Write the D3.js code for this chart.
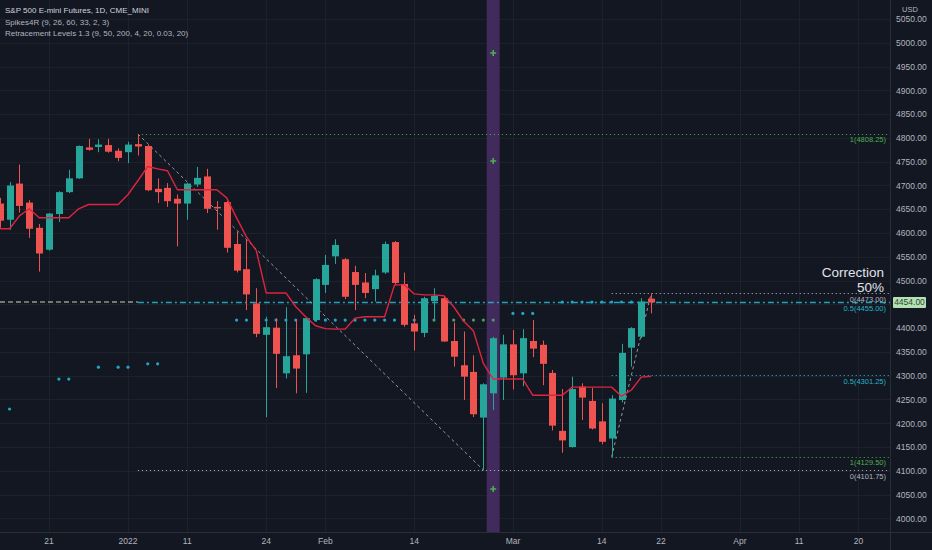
<!DOCTYPE html>
<html><head><meta charset="utf-8">
<script src="https://cdn.jsdelivr.net/npm/d3@7"></script>
<style>
html,body{margin:0;padding:0;background:#131722;}
svg{display:block;font-family:"Liberation Sans",Arial,sans-serif;}
</style></head><body>
<svg id="chart" width="932" height="550"></svg>
<script>
// ---- DATA ----
const dates = [
"2021-12-14","2021-12-15","2021-12-16","2021-12-17","2021-12-20","2021-12-21","2021-12-22","2021-12-23","2021-12-27","2021-12-28","2021-12-29","2021-12-30","2021-12-31",
"2022-01-03","2022-01-04","2022-01-05","2022-01-06","2022-01-07","2022-01-10","2022-01-11","2022-01-12","2022-01-13","2022-01-14","2022-01-18","2022-01-19","2022-01-20","2022-01-21","2022-01-24","2022-01-25","2022-01-26","2022-01-27","2022-01-28","2022-01-31",
"2022-02-01","2022-02-02","2022-02-03","2022-02-04","2022-02-07","2022-02-08","2022-02-09","2022-02-10","2022-02-11","2022-02-14","2022-02-15","2022-02-16","2022-02-17","2022-02-18","2022-02-22","2022-02-23","2022-02-24","2022-02-25","2022-02-28",
"2022-03-01","2022-03-02","2022-03-03","2022-03-04","2022-03-07","2022-03-08","2022-03-09","2022-03-10","2022-03-11","2022-03-14","2022-03-15","2022-03-16","2022-03-17","2022-03-18","2022-03-21",
"2022-03-22","2022-03-23","2022-03-24","2022-03-25","2022-03-28","2022-03-29","2022-03-30","2022-03-31",
"2022-04-01","2022-04-04","2022-04-05","2022-04-06","2022-04-07","2022-04-08","2022-04-11","2022-04-12","2022-04-13","2022-04-14","2022-04-18","2022-04-19","2022-04-20"];

const openVals  = [4662,4628,4704,4664,4611,4565,4640,4686,4715,4780,4781,4785,4773,4770,4787,4783,4693,4695,4672,4662,4702,4719,4655,4665,4577,4524,4452,4386,4401,4305,4343,4345,4417,4491,4551,4545,4518,4496,4482,4517,4581,4493,4410,4390,4457,4463,4373,4322,4308,4212,4263,4296,4366,4305,4373,4365,4306,4184,4150,4277,4247,4204,4168,4249,4359,4382,4462];
const highVals  = [4674,4707,4744,4669,4619,4642,4688,4733,4784,4798,4797,4798,4778,4792,4808.25,4786,4715,4705,4681,4705,4739,4735,4667,4667,4603,4586,4484,4424,4421,4444,4419,4423,4505,4554,4587,4547,4531,4516,4523,4582,4583,4517,4428,4466,4484,4466,4412,4393,4343,4284,4382,4386,4396,4398,4417,4374,4312,4272,4298,4284,4274,4242,4259,4367,4402,4463,4473];
const lowVals   = [4611,4607,4643,4590,4519,4563,4623,4684,4714,4773,4770,4769,4751,4747,4763,4688,4663,4655,4572,4628,4697,4642,4607,4559,4517,4438,4381,4212.75,4274,4294,4263,4264,4414,4474,4535,4461,4438,4463,4456,4514,4491,4403,4353,4381,4417,4371,4319,4249,4213,4101.75,4228,4249,4271,4278,4339,4280,4185,4138,4149,4207,4187,4156,4129.5,4244,4319,4379,4431];
const closeVals = [4626,4700,4657,4609,4557,4641,4686,4715,4783,4775,4786,4771,4758,4786,4782,4690,4686,4667,4662,4704,4716,4651,4652,4569,4521,4471,4388,4402,4346,4341,4315,4421,4503,4533,4575,4466,4491,4474,4511,4577,4495,4407,4393,4463,4468,4372,4340,4298,4219,4282,4379,4366,4301,4379,4357,4325,4195,4164,4272,4254,4189,4161,4252,4348,4400,4456,4454];

const spikeLine = [4609,4609,4636,4651,4632,4632,4632,4632,4651,4660,4660,4660,4660,4681,4710,4740,4735,4731,4691,4691,4691,4691,4691,4674,4632,4592,4563,4474,4474,4474,4445,4424,4405,4399,4398,4398,4421,4424,4424,4424,4491,4491,4472,4470,4470,4468,4445,4415,4394,4326,4293,4293,4293,4293,4259,4259,4259,4259,4276,4276,4276,4276,4276,4257,4270,4297,4299];

// support dots: date index, price, colour key
const dotIdx   = [1,6,7,10,12,13,15,16,24,25,26,27,28,29,30,31,32,33,34,35,36,37,38,39,40,41,42,43,44,45,46,47,48,49,50,52,53,54,57,58,59,60,61,62,63,64];
const dotPrice = [4230,4293,4293,4318,4318,4318,4325,4325,4417,4417,4417,4417,4417,4417,4417,4417,4417,4417,4417,4417,4417,4417,4417,4417,4417,4417,4417,4417,4417,4417,4417,4417,4417,4417,4417,4431,4431,4431,4455,4455,4455,4455,4455,4455,4455,4455];
const dotKind  = ["c","c","c","c","c","c","c","c","c","c","c","c","c","c","c","c","c","c","c","c","c","c","c","c","c","c","c","c","g","g","g","g","g","g","g","c","c","c","c","c","c","c","c","c","c","c"];

const plusIdx = [50,50,50];
const plusPrice = [4978.6,4751.5,4061.8];
const spikeBarIdx = 50;

// retracement levels
const levelNames  = ["1(4808.25)","0(4101.75)","0.5(4455.00)","0(4473.00)","0.5(4301.25)","1(4129.50)"];
const levelPrices = [4808.25,4101.75,4455.00,4473.00,4301.25,4129.50];
const levelStart  = [14,14,14,62,62,62];
const levelKind   = ["one","zero","half","zero","half","one"];
const swings = [[14,4808.25,49,4101.75],[62,4129.50,66,4473.00]];

const gridPrices = d3.range(4000, 5051, 50);
const priceTickLabels = [4000,4050,4100,4150,4200,4250,4300,4350,4400,4500,4550,4600,4650,4700,4750,4800,4850,4900,4950,5000,5050];
const timeTickDates = ["2021-12-21","2022-01-03","2022-01-11","2022-01-24","2022-02-01","2022-02-14","2022-03-01","2022-03-14","2022-03-22","2022-04-01","2022-04-11","2022-04-20"];
const timeTickLabels = ["21","2022","11","24","Feb","14","Mar","14","22","Apr","11","20"];
const legendLines = ["S&P 500 E-mini Futures, 1D, CME_MINI","Spikes4R (9, 26, 60, 33, 2, 3)","Retracement Levels 1.3 (9, 50, 200, 4, 20, 0.03, 20)"];
const lastPrice = 4454.00;

// ---- LAYOUT ----
const W = 932, H = 550, plotR = 890, plotB = 532;
const svg = d3.select("#chart");
const x = d3.scalePoint().domain(dates).range([-0.3, 858.4]);
const y = d3.scaleLinear().domain([3971.4, 5090]).range([plotB, 0]);
const bodyW = 7;

svg.append("rect").attr("width", W).attr("height", H).attr("fill", "#131722");

svg.append("clipPath").attr("id","pc").append("rect").attr("x",0).attr("y",0).attr("width",plotR).attr("height",plotB);
const plot = svg.append("g").attr("clip-path","url(#pc)");

// grid
plot.selectAll(".hg").data(gridPrices).enter().append("line")
  .attr("x1",0).attr("x2",plotR).attr("y1",d=>Math.round(y(d))+0.5).attr("y2",d=>Math.round(y(d))+0.5)
  .attr("stroke","#1d212c").attr("stroke-width",1);
plot.selectAll(".vg").data(timeTickDates).enter().append("line")
  .attr("y1",0).attr("y2",plotB).attr("x1",d=>Math.round(x(d))+0.5).attr("x2",d=>Math.round(x(d))+0.5)
  .attr("stroke","#1d212c").attr("stroke-width",1);

// purple spike band
plot.append("rect").attr("x", x(dates[spikeBarIdx]) - 6.5).attr("width", 13).attr("y",0).attr("height",plotB)
  .attr("fill","#412a5c");

// pale dashed line on the left at 4455
const xEndLeft = x(dates[14]);
plot.append("line").attr("x1",0).attr("x2",xEndLeft).attr("y1",y(4455)).attr("y2",y(4455))
  .attr("stroke","#d7dcc8").attr("stroke-width",1.2).attr("stroke-dasharray","5,11");
plot.append("line").attr("x1",8).attr("x2",xEndLeft).attr("y1",y(4455)).attr("y2",y(4455))
  .attr("stroke","#b6d99a").attr("stroke-width",1.2).attr("stroke-dasharray","5,11");

// level lines
const lvlColor = {one:"#4caf50", zero:"#b2b5be", half:"#26b3c9"};
levelPrices.forEach((p,i)=>{
  const k = levelKind[i];
  const dashDot = (k==="half" && i===2);
  plot.append("line")
    .attr("x1", x(dates[levelStart[i]])).attr("x2", plotR)
    .attr("y1", Math.round(y(p))+0.5).attr("y2", Math.round(y(p))+0.5)
    .attr("stroke", lvlColor[k]).attr("stroke-width", dashDot ? 1.3 : 1.1)
    .attr("stroke-dasharray", dashDot ? "6,3,2,3" : "1.2,2.8")
    .attr("opacity", k==="one" ? 0.85 : 0.9);
});
swings.forEach(s=>{
  plot.append("line").attr("x1",x(dates[s[0]])).attr("y1",y(s[1])).attr("x2",x(dates[s[2]])).attr("y2",y(s[3]))
    .attr("stroke","#9598a1").attr("stroke-width",1).attr("stroke-dasharray","3,3");
});

// dots
const dotColor = {c:"#22a4c8", g:"#4f9a5f"};
plot.selectAll(".dot").data(dotIdx).enter().append("circle")
  .attr("cx",d=>x(dates[d])).attr("cy",(d,i)=>y(dotPrice[i])).attr("r",1.6)
  .attr("fill",(d,i)=>dotColor[dotKind[i]]);

// candles
const candles = openVals.map((o,i)=>({d:dates[i],o,h:highVals[i],l:lowVals[i],c:closeVals[i]}));
const cg = plot.append("g");
cg.selectAll(".wick").data(candles).enter().append("line")
  .attr("x1",d=>Math.round(x(d.d))+0.5).attr("x2",d=>Math.round(x(d.d))+0.5)
  .attr("y1",d=>y(d.h)).attr("y2",d=>y(d.l))
  .attr("stroke",d=>d.c>=d.o?"#26a69a":"#ef5350").attr("stroke-width",1);
cg.selectAll(".body").data(candles).enter().append("rect")
  .attr("x",d=>Math.round(x(d.d))+0.5-bodyW/2).attr("width",bodyW)
  .attr("y",d=>y(Math.max(d.o,d.c))).attr("height",d=>Math.max(1.5,Math.abs(y(d.o)-y(d.c))))
  .attr("fill",d=>d.c>=d.o?"#26a69a":"#ef5350");

// spikes line
const line = d3.line().x((d,i)=>x(dates[i])).y(d=>y(d));
plot.append("path").datum(spikeLine).attr("d",line).attr("fill","none")
  .attr("stroke","#e0243f").attr("stroke-width",1.4).attr("stroke-linejoin","round");

// plus markers
plusIdx.forEach((d,i)=>{
  const cx = x(dates[d]), cy = y(plusPrice[i]);
  plot.append("path").attr("d",`M${cx-3},${cy}H${cx+3}M${cx},${cy-3}V${cy+3}`)
    .attr("stroke","#4caf50").attr("stroke-width",1.6);
});

// level labels
levelPrices.forEach((p,i)=>{
  svg.append("text").attr("x",886).attr("y",y(p)+8.5)
    .attr("text-anchor","end").attr("font-size",7.5).attr("fill",lvlColor[levelKind[i]])
    .text(levelNames[i]);
});
// correction text
svg.append("text").attr("x",884).attr("y",276.5).attr("text-anchor","end").attr("font-size",13.5)
  .attr("fill","#e0e3eb").text("Correction");
svg.append("text").attr("x",884).attr("y",292).attr("text-anchor","end").attr("font-size",13.5)
  .attr("fill","#e0e3eb").text("50%");

// axes borders
svg.append("line").attr("x1",plotR+0.5).attr("x2",plotR+0.5).attr("y1",0).attr("y2",H).attr("stroke","#2a2e39");
svg.append("line").attr("x1",0).attr("x2",W).attr("y1",plotB+0.5).attr("y2",plotB+0.5).attr("stroke","#2a2e39");

// price axis
const yAxis = d3.axisRight(y).tickValues(priceTickLabels).tickSize(0).tickPadding(0).tickFormat(d3.format(".2f"));
const ya = svg.append("g").attr("transform","translate(896,0)").call(yAxis);
ya.select(".domain").remove();
ya.selectAll("text").attr("font-size",8.5).attr("fill","#b2b5be").attr("font-family","Liberation Sans, Arial, sans-serif");
svg.append("text").attr("x",910).attr("y",12).attr("text-anchor","middle").attr("font-size",7.5).attr("fill","#b2b5be").text("USD");

// last price label
svg.append("rect").attr("x",893).attr("y",y(lastPrice)-5.5).attr("width",33).attr("height",11).attr("rx",1).attr("fill","#b5e0b3");
svg.append("text").attr("x",909.5).attr("y",y(lastPrice)+3).attr("text-anchor","middle").attr("font-size",8.5).attr("fill","#2e4a30").text(d3.format(".2f")(lastPrice));

// time axis
const xa = svg.append("g").attr("transform",`translate(0,${plotB})`);
xa.selectAll("text").data(timeTickDates).enter().append("text")
  .attr("x",d=>x(d)).attr("y",11.5).attr("text-anchor","middle").attr("font-size",8.5).attr("fill","#b2b5be")
  .text((d,i)=>timeTickLabels[i]);

// legend
legendLines.forEach((t,i)=>{
  svg.append("text").attr("x",5).attr("y",13+i*11.5).attr("font-size",8)
    .attr("fill", i===0 ? "#d1d4dc" : "#b2b5be").text(t);
});
</script>
</body></html>
